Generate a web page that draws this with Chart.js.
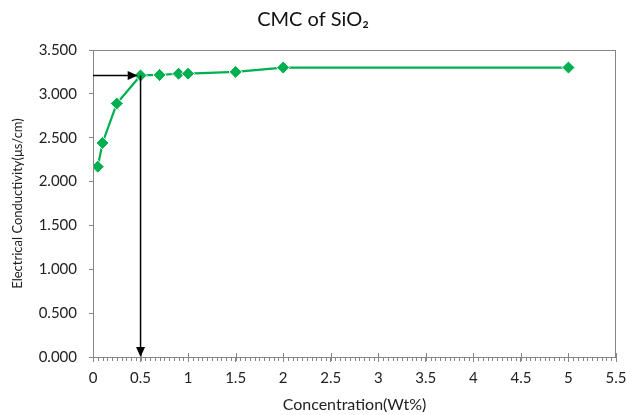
<!DOCTYPE html>
<html>
<head>
<meta charset="utf-8">
<script src="https://cdn.jsdelivr.net/npm/chart.js@4"></script>
<style>
  html, body { margin: 0; padding: 0; background: #fff; }
  #wrap { width: 626px; height: 415px; }
</style>
</head>
<body>
<div id="wrap"><canvas id="cmcChart" width="626" height="415"></canvas></div>
<script>
const concentration = [0.05, 0.1, 0.25, 0.5, 0.7, 0.9, 1, 1.5, 2, 5];
const conductivity = [2.17, 2.44, 2.89, 3.21, 3.215, 3.23, 3.23, 3.25, 3.30, 3.30];

// CMC marker arrows (x, y in data units)
const cmcX = 0.5;
const cmcY = 3.21;
const arrowStartX = 0;
const arrowEndX = 0.47;

const green = '#00B050';
const axisGray = '#868686';

const ctx = document.getElementById('cmcChart').getContext('2d');

// frame, minor ticks and the two arrows
const extras = {
    id: 'extras',
    afterDatasetsDraw(chart) {
        const {ctx, chartArea: a, scales: {x, y}} = chart;
        ctx.save();
        // plot frame
        ctx.strokeStyle = axisGray;
        ctx.lineWidth = 1;
        ctx.strokeRect(a.left + 0.5, a.top + 0.5, a.right - a.left - 1, a.bottom - a.top);
        // x minor ticks + major ticks inside
        ctx.beginPath();
        for (let i = 0; i <= 110; i++) {
            const px = Math.round(x.getPixelForValue(i * 0.05)) + 0.5;
            ctx.moveTo(px, a.bottom);
            ctx.lineTo(px, a.bottom + 4);
            if (i % 10 === 0) {
                ctx.moveTo(px, a.bottom);
                ctx.lineTo(px, a.bottom - 4);
            }
        }
        ctx.stroke();

        // arrows
        ctx.strokeStyle = '#000';
        ctx.fillStyle = '#000';
        ctx.lineWidth = 1.5;
        const hy = y.getPixelForValue(cmcY);
        const hx0 = x.getPixelForValue(arrowStartX);
        const hx1 = x.getPixelForValue(arrowEndX);
        ctx.beginPath();
        ctx.moveTo(hx0, hy);
        ctx.lineTo(hx1 - 8, hy);
        ctx.stroke();
        ctx.beginPath();
        ctx.moveTo(hx1, hy);
        ctx.lineTo(hx1 - 10, hy - 4.5);
        ctx.lineTo(hx1 - 10, hy + 4.5);
        ctx.closePath();
        ctx.fill();

        const vx = x.getPixelForValue(cmcX);
        const vy0 = y.getPixelForValue(cmcY);
        const vy1 = y.getPixelForValue(0);
        ctx.beginPath();
        ctx.moveTo(vx, vy0);
        ctx.lineTo(vx, vy1 - 8);
        ctx.stroke();
        ctx.beginPath();
        ctx.moveTo(vx, vy1);
        ctx.lineTo(vx - 4.5, vy1 - 10);
        ctx.lineTo(vx + 4.5, vy1 - 10);
        ctx.closePath();
        ctx.fill();
        ctx.restore();
    }
};

const data = {
    datasets: [
        {
            data: concentration.map((c, i) => ({x: c, y: conductivity[i]})),
            borderColor: green,
            backgroundColor: green,
            borderWidth: 2.25,
            pointStyle: 'rectRot',
            pointRadius: 6.5,
            pointBorderColor: '#fff',
            pointBorderWidth: 1,
            pointBackgroundColor: green,
            tension: 0,
        },
    ],
};

const config = {
    type: 'scatter',
    data: data,
    options: {
        responsive: false,
        animation: false,
        showLine: true,
        layout: {
            padding: {left: 0, right: 0, top: 0, bottom: 0}
        },
        plugins: {
            legend: false,
            tooltip: {enabled: false},
            title: {
                display: true,
                text: 'CMC of SiO₂',
                color: '#111',
                font: {family: 'Lato', size: 20, weight: 'normal'},
                padding: {top: 8, bottom: 18}
            }
        },
        scales: {
            x: {
                type: 'linear',
                min: 0,
                max: 5.5,
                afterFit: (scale) => {
                    scale.height = 58;
                    scale.paddingRight = 10;
                },
                ticks: {
                    stepSize: 0.5,
                    color: '#222',
                    padding: 7,
                    maxRotation: 0,
                    font: {family: 'Lato', size: 15},
                    callback: (v) => String(Number(v.toFixed(2)))
                },
                grid: {display: true, drawOnChartArea: false, drawTicks: true, tickLength: 5, color: axisGray},
                border: {display: true, color: axisGray},
                title: {
                    display: true,
                    text: 'Concentration(Wt%)',
                    color: '#222',
                    font: {family: 'Lato', size: 16},
                    padding: {top: 0, bottom: 1}
                }
            },
            y: {
                min: 0,
                max: 3.5,
                afterFit: (scale) => { scale.width = 93; },
                ticks: {
                    stepSize: 0.5,
                    color: '#222',
                    padding: 12,
                    font: {family: 'Lato', size: 15},
                    callback: (v) => v.toFixed(3)
                },
                grid: {display: true, drawOnChartArea: false, drawTicks: true, tickLength: 4, color: axisGray},
                border: {display: true, color: axisGray},
                title: {
                    display: true,
                    text: 'Electrical Conductivity(μs/cm)',
                    color: '#222',
                    font: {family: 'Lato', size: 13},
                    padding: {top: 10, bottom: 0}
                }
            }
        }
    },
    plugins: [extras]
};

const cmcChart = new Chart(ctx, config);
</script>
</body>
</html>
